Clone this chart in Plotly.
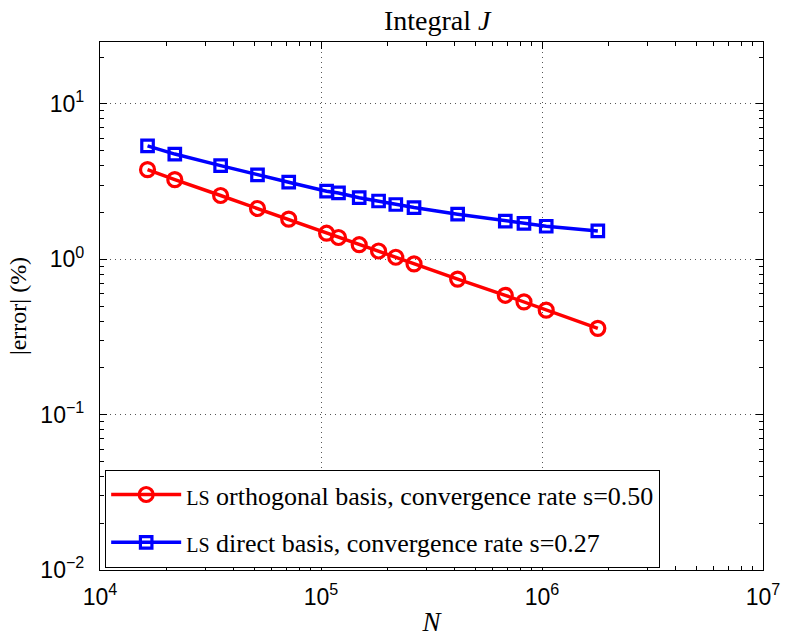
import plotly.graph_objects as go
import numpy as np

N = [16410, 21800, 35140, 51600, 71440, 106000, 120000, 148900, 182200,
     218000, 263600, 415200, 682200, 828700, 1045000, 1789000]
err_orth = [3.77, 3.25, 2.57, 2.12, 1.81, 1.47, 1.38, 1.24, 1.13, 1.03,
            0.933, 0.745, 0.586, 0.532, 0.470, 0.359]
err_direct = [5.36, 4.75, 4.00, 3.49, 3.13, 2.74, 2.67, 2.49, 2.37, 2.25,
              2.15, 1.95, 1.76, 1.70, 1.63, 1.52]

x_tickvals = [1e4, 1e5, 1e6, 1e7]
x_ticktext = ["10<sup>4</sup>", "10<sup>5</sup>", "10<sup>6</sup>", "10<sup>7</sup>"]
y_tickvals = [1e-2, 1e-1, 1e0, 1e1]
y_ticktext = ["10<sup>\u22122</sup>", "10<sup>\u22121</sup>", "10<sup>0</sup>", "10<sup>1</sup>"]

label_orth = "<span style='font-size:20px'>LS</span> orthogonal basis, convergence rate s=0.50"
label_direct = "<span style='font-size:20px'>LS</span> direct basis, convergence rate s=0.27"

serif = "Liberation Serif"
sans = "Liberation Sans"

fig = go.Figure()
fig.add_trace(go.Scatter(
    x=N, y=err_orth, mode="lines+markers", name=label_orth, legendgroup="a",
    line=dict(color="#ff0000", width=3.5),
    marker=dict(symbol="circle-open", size=14, color="#ff0000", line=dict(width=3.2, color="#ff0000")),
))
fig.add_trace(go.Scatter(
    x=N, y=err_direct, mode="lines+markers", name=label_direct, legendgroup="b",
    line=dict(color="#0000ff", width=3.5),
    marker=dict(symbol="square-open", size=11.5, color="#0000ff", line=dict(width=3.2, color="#0000ff")),
))

axis_common = dict(
    type="log", showline=True, linecolor="black", linewidth=1.2, mirror="allticks",
    ticks="inside", ticklen=7, tickcolor="black", tickwidth=1,
    showgrid=True, gridcolor="#555555", griddash="1px,4px", gridwidth=1,
    zeroline=False,
    tickfont=dict(family=sans, size=23, color="black"),
    minor=dict(ticks="inside", ticklen=4, tickcolor="black", dtick="D1", showgrid=False),
)

fig.update_layout(
    width=792, height=644,
    margin=dict(l=100, r=19, t=42, b=69),
    paper_bgcolor="white", plot_bgcolor="white",
    title=dict(text="Integral <i>J</i>", x=0.552, xanchor="center", y=0.969, yanchor="middle",
               font=dict(family=serif, size=28, color="black")),
    xaxis=dict(axis_common, range=[4, 7], tickmode="array", tickvals=x_tickvals, ticktext=x_ticktext,
               ticklabelstandoff=6,
               title=dict(text="<i>N</i>", font=dict(family=serif, size=27, color="black"), standoff=3)),
    yaxis=dict(axis_common, range=[-2, np.log10(25)], tickmode="array", tickvals=y_tickvals, ticktext=y_ticktext,
               ticklabelstandoff=10,
               title=dict(text="|error| (%)", font=dict(family=serif, size=24, color="black"), standoff=6)),
    showlegend=True,
    legend=dict(x=0.0075, y=0.004, xanchor="left", yanchor="bottom",
                bordercolor="black", borderwidth=1.2, bgcolor="white",
                font=dict(family=serif, size=26, color="black"),
                tracegroupgap=11, itemwidth=70),
)

fig.write_html("out.html")
